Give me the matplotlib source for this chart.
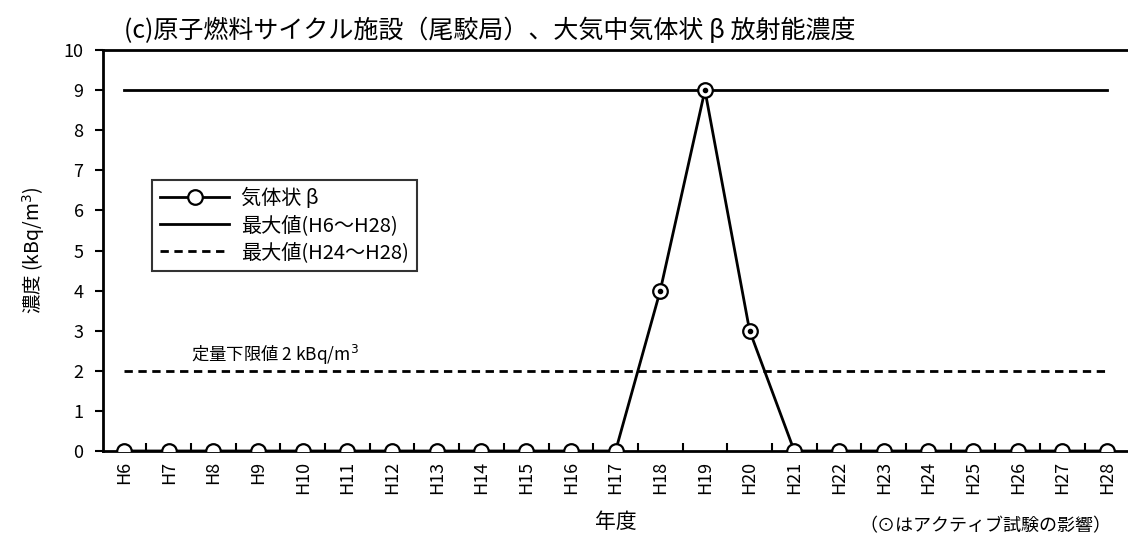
import numpy as np
import matplotlib
matplotlib.use('Agg')
import matplotlib.pyplot as plt

plt.rcParams['font.family'] = ['Noto Sans CJK JP', 'DejaVu Sans']

years = ['H6', 'H7', 'H8', 'H9', 'H10', 'H11', 'H12', 'H13', 'H14', 'H15', 'H16', 'H17',
         'H18', 'H19', 'H20', 'H21', 'H22', 'H23', 'H24', 'H25', 'H26', 'H27', 'H28']
gas_beta = [0, 0, 0, 0, 0, 0, 0, 0, 0, 0, 0, 0, 4, 9, 3, 0, 0, 0, 0, 0, 0, 0, 0]
active_test = ['H18', 'H19', 'H20']
max_all = 9
max_recent = 2
lower_limit = 2

fig = plt.figure(figsize=(11.28, 5.45), dpi=100)
ax = fig.add_axes([0.0913, 0.1725, 0.91, 0.7355])

x = np.arange(len(years))
ax.plot(x, [max_all] * len(x), color='black', lw=2, label='最大値(H6～H28)')
ax.plot(x, [max_recent] * len(x), color='black', lw=2, ls=(0, (3, 2)),
        label='最大値(H24～H28)')
ax.plot(x, gas_beta, color='black', lw=2, marker='o', ms=10.5, mfc='white', mec='black',
        mew=1.6, label='気体状 β', zorder=5)

# active test points get a dot in the middle
idx = [years.index(y) for y in active_test]
ax.plot(idx, [gas_beta[i] for i in idx], ls='none', marker='o', ms=3, color='black', zorder=6)

ax.set_xlim(-0.47, len(years) - 0.5)
ax.set_ylim(0, 10)
ax.set_yticks(range(0, 11))
ax.set_xticks(x)
ax.set_xticklabels(years, rotation=90, fontsize=13)
ax.set_xticks(np.arange(0.5, len(years) - 1, 1), minor=True)
ax.tick_params(axis='x', which='major', length=0, pad=7)
ax.tick_params(axis='x', which='minor', direction='in', length=6, width=1.5)
ax.tick_params(axis='y', direction='out', length=6, width=1.5, labelsize=13, pad=8)

for s in ['left', 'bottom', 'top']:
    ax.spines[s].set_linewidth(2)
ax.spines['right'].set_visible(False)

ax.set_ylabel('濃度 (kBq/m$^3$)', fontsize=14, labelpad=12)
ax.set_xlabel('年度', fontsize=15, labelpad=12)
ax.set_title('(c)原子燃料サイクル施設（尾駮局）、大気中気体状 β 放射能濃度',
             fontsize=18, loc='left', x=0.02, pad=9)

ax.text(1.5, lower_limit + 0.25, '定量下限値 2 kBq/m$^3$', fontsize=12.5)
fig.text(0.985, 0.025, '（⊙はアクティブ試験の影響）', fontsize=13, ha='right',
         family=['Noto Sans CJK JP', 'DejaVu Sans'])

handles, labels = ax.get_legend_handles_labels()
order = [2, 0, 1]
leg = ax.legend([handles[i] for i in order], [labels[i] for i in order],
                loc='upper left', bbox_to_anchor=(0.048, 0.676), borderaxespad=0,
                fontsize=14.5, handlelength=3.4, frameon=True, fancybox=False,
                edgecolor='black', borderpad=0.4, labelspacing=0.3, handletextpad=0.6)
leg.get_frame().set_linewidth(1.5)

fig.savefig('out.png', dpi=100)
